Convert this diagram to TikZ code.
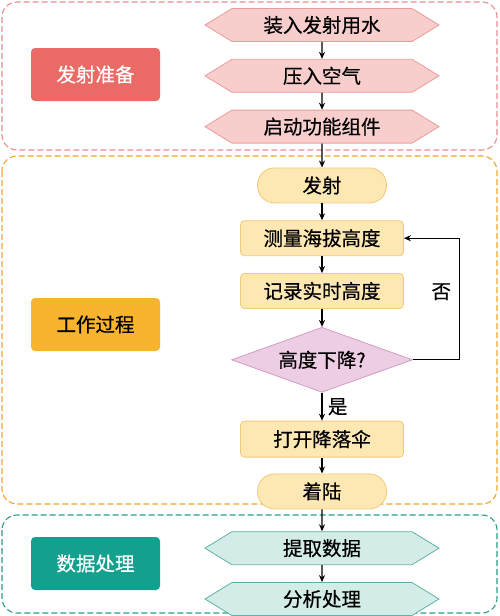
\documentclass[tikz,border=0pt]{standalone}
\usepackage{fontspec}
\setmainfont{Noto Sans CJK SC}[FakeBold=0.5]
\usetikzlibrary{positioning, shapes.geometric, shapes.symbols, arrows.meta}

\definecolor{hongse}{HTML}{EA6B66}
\definecolor{hongtian}{HTML}{F8CECC}
\definecolor{hongbian}{HTML}{EE9A98}
\definecolor{hongxu}{HTML}{E98C8C}
\definecolor{chengse}{HTML}{F7B42C}
\definecolor{chengxu}{HTML}{F0A429}
\definecolor{huangtian}{HTML}{FDE7B3}
\definecolor{huangbian}{HTML}{F0CB78}
\definecolor{zitian}{HTML}{EDCDE3}
\definecolor{zibian}{HTML}{D39CC4}
\definecolor{lvse}{HTML}{14A08F}
\definecolor{lvtian}{HTML}{D3ECE7}
\definecolor{lvbian}{HTML}{5FB3A5}
\definecolor{lvxu}{HTML}{2A9C8C}

\begin{document}
\begin{tikzpicture}[x=1pt, y=-1pt, node distance=17pt, font=\fontsize{19.5}{21}\selectfont]
					\tikzstyle{group} = [dashed, dash pattern=on 6pt off 3pt, line width=1.1pt, rounded corners=15pt]
					\tikzstyle{tag} = [rectangle, rounded corners=4pt, minimum width=129pt, minimum height=53pt, inner sep=0pt]
					\tikzstyle{hexa} = [signal, signal to=west and east, signal pointer angle=63, draw, line width=0.8pt, minimum width=234pt, minimum height=33pt, inner sep=0pt]
					\tikzstyle{pill} = [rectangle, draw=huangbian, fill=huangtian, line width=0.8pt, rounded corners=17pt, minimum width=129pt, minimum height=35pt, inner sep=0pt]
					\tikzstyle{act} = [rectangle, draw=huangbian, fill=huangtian, line width=0.8pt, rounded corners=4pt, minimum width=163pt, minimum height=35pt, inner sep=0pt]
					\tikzstyle{arr} = [-{Stealth[length=7pt, width=6pt]}, line width=1.1pt]
					
					\useasboundingbox (0,0) rectangle (500,616);
					
					% groups
					\draw[group, draw=hongxu] (2,2) rectangle (497,150);
					\draw[group, draw=chengxu] (2,156) rectangle (497,504);
					\draw[group, draw=lvxu] (2,515) rectangle (497,613);
					
					\node[tag, fill=hongse, text=white] at (95.5,74.5) (zhunbei) {发射准备};
					\node[tag, fill=chengse] at (95.5,324.5) (guocheng) {工作过程};
					\node[tag, fill=lvse, text=white] at (95.5,563.5) (chuli) {数据处理};
					
					% flow
					\node[hexa, draw=hongbian, fill=hongtian] at (322,25) (zhuangshui) {装入发射用水};
					\node[hexa, draw=hongbian, fill=hongtian, below=of zhuangshui] (yaqi) {压入空气};
					\node[hexa, draw=hongbian, fill=hongtian, below=of yaqi] (qidong) {启动功能组件};
					\node[pill, below=24pt of qidong] (fashe) {发射};
					\node[act, below=of fashe] (celiang) {测量海拔高度};
					\node[act, below=of celiang] (jilu) {记录实时高度};
					\node[diamond, aspect=2.8, draw=zibian, fill=zitian, line width=0.8pt, minimum width=181pt, minimum height=65pt, inner sep=0pt, below=18pt of jilu] (xiajiang) {高度下降?};
					\node[act, minimum height=36pt, below=28pt of xiajiang] (dakai) {打开降落伞};
					\node[pill, below=16pt of dakai] (zhuolu) {着陆};
					\node[hexa, draw=lvbian, fill=lvtian, below=22pt of zhuolu] (tiqu) {提取数据};
					\node[hexa, draw=lvbian, fill=lvtian, below=of tiqu] (fenxi) {分析处理};
					
					\draw[arr] (zhuangshui) -- (yaqi);
					\draw[arr] (yaqi) -- (qidong);
					\draw[arr] (qidong) -- (fashe);
					\draw[arr] (fashe) -- (celiang);
					\draw[arr] (celiang) -- (jilu);
					\draw[arr] (jilu) -- (xiajiang);
					\draw[arr] (xiajiang) --node[right=2pt]{是} (dakai);
					\draw[arr] (dakai) -- (zhuolu);
					\draw[arr] (zhuolu) -- (tiqu);
					\draw[arr] (tiqu) -- (fenxi);
					\draw[arr] (xiajiang.east) -- ++(47,0) |- node[pos=0.28, left=5pt]{否} (celiang.east);
				\end{tikzpicture}
\end{document}
